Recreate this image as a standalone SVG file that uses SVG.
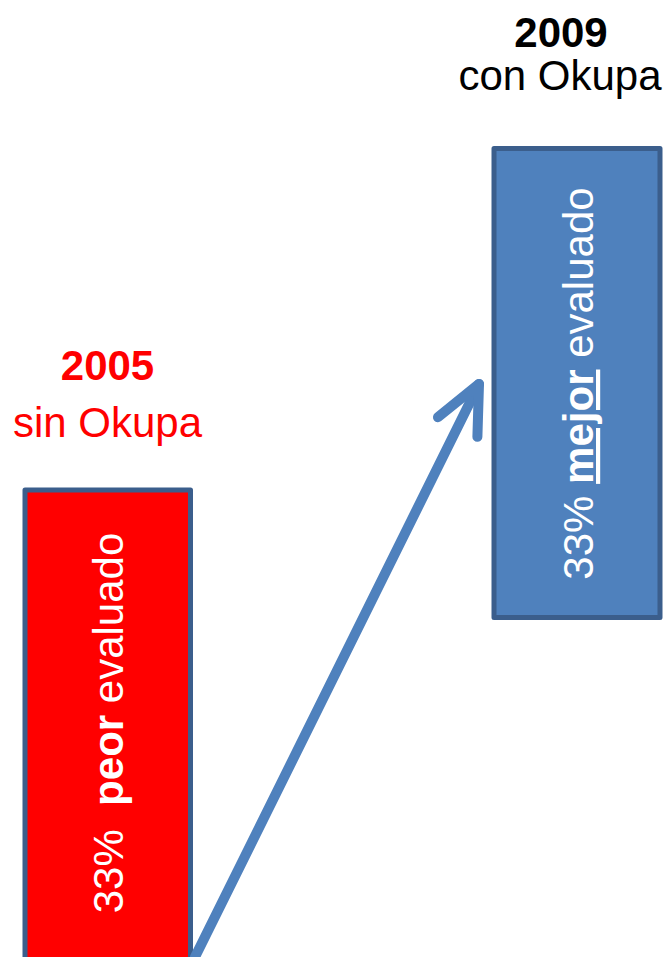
<svg xmlns="http://www.w3.org/2000/svg" width="665" height="957" viewBox="0 0 665 957">
<style>
text{font-family:"Liberation Sans",Arial,sans-serif;font-size:42px;text-anchor:middle}
.b{font-weight:bold}
.box{stroke:#3B5E8C;stroke-width:5;stroke-linejoin:round}
.inbox{fill:#FFFFFF;white-space:pre}
.conn{fill:none;stroke:#4F81BD;stroke-width:10;stroke-linecap:round;stroke-linejoin:round}
</style>
<defs>
<marker id="ah" viewBox="-60 -30 70 60" refX="0" refY="0" markerWidth="70" markerHeight="60" markerUnits="userSpaceOnUse" orient="auto" overflow="visible">
<path d="M-48,-22 L0,0 L-48,22" fill="none" stroke="#4F81BD" stroke-width="10" stroke-linecap="round" stroke-linejoin="round"/>
</marker>
</defs>
<rect width="665" height="957" fill="#FFFFFF"/>
<g id="label-2009">
<text x="561" y="47" class="b" fill="#000000">2009</text>
<text x="560" y="90" fill="#000000">con Okupa</text>
</g>
<g id="label-2005">
<text x="107.5" y="380" class="b" fill="#FF0000">2005</text>
<text x="107.5" y="437" fill="#FF0000">sin Okupa</text>
</g>
<g id="box-2005">
<rect class="box" x="25" y="490" width="165.5" height="470" fill="#FF0000"/>
<text class="inbox" transform="translate(123,723) rotate(-90)">33%  <tspan class="b">peor</tspan> evaluado</text>
</g>
<g id="box-2009">
<rect class="box" x="494" y="148.5" width="166" height="469" fill="#4F81BD"/>
<text class="inbox" transform="translate(593,383.5) rotate(-90)">33% <tspan class="b" text-decoration="underline">mejor</tspan> evaluado</text>
</g>
<g id="connectors">
<path class="conn" d="M195,957 L479,384" marker-end="url(#ah)"/>
</g>
</svg>
